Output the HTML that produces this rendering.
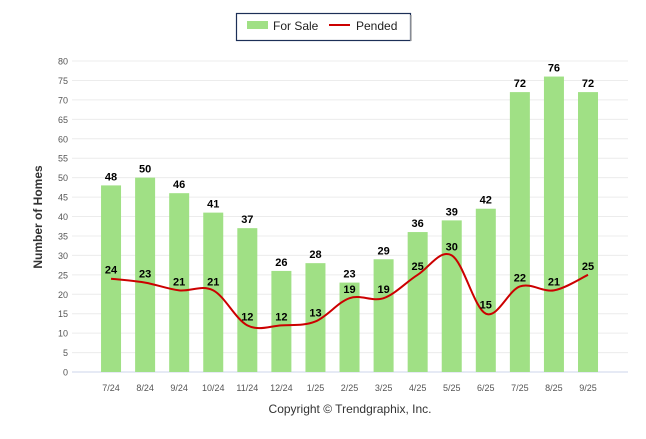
<!DOCTYPE html>
<html><head><meta charset="utf-8"><style>
body{margin:0;background:#fff;font-family:"Liberation Sans",sans-serif}
</style></head><body>
<svg width="646" height="434" xmlns="http://www.w3.org/2000/svg" id="c">
<rect x="0" y="0" width="646" height="434" fill="#fff"/>
<g>
<rect x="236.5" y="13.5" width="174" height="27" fill="#fff" stroke="#1c2f57" stroke-width="1.2"/>
<line x1="411" y1="15" x2="411" y2="41" stroke="#aaa" stroke-width="1.5"/>
<rect x="247" y="21" width="21" height="8" fill="#a0e085"/>
<text x="273" y="30" font-size="12" fill="#222">For Sale</text>
<line x1="329" y1="25" x2="350" y2="25" stroke="#cc0000" stroke-width="2"/>
<text x="356" y="30" font-size="12" fill="#222">Pended</text>
</g>
<text transform="translate(42,217) rotate(-90)" text-anchor="middle" font-size="12" font-weight="bold" fill="#333">Number of Homes</text>
<text x="350" y="413" text-anchor="middle" font-size="12" fill="#333">Copyright © Trendgraphix, Inc.</text>
<g id="grid"></g><g id="bars"></g><g id="line"></g><g id="labels"></g>
</svg>
<script>
const categories=["7/24","8/24","9/24","10/24","11/24","12/24","1/25","2/25","3/25","4/25","5/25","6/25","7/25","8/25","9/25"];
const forSale=[48,50,46,41,37,26,28,23,29,36,39,42,72,76,72];
const pended=[24,23,21,21,12,12,13,19,19,25,30,15,22,21,25];
const yTicks=[0,5,10,15,20,25,30,35,40,45,50,55,60,65,70,75,80];
const NS="http://www.w3.org/2000/svg";
const y0=372,y1=61,yMax=80,bandL=94,band=34.07;
const y=v=>y0-(v/yMax)*(y0-y1);
const x=i=>bandL+band*(i+0.5);
function mk(t,a,p){const e=document.createElementNS(NS,t);for(const k in a)e.setAttribute(k,a[k]);document.getElementById(p).appendChild(e);return e;}
yTicks.forEach(v=>{
const g=mk('line',{x1:72,x2:628,y1:y(v),y2:y(v),stroke:v===0?'#ccd6eb':'#ececec','stroke-width':1},'grid');


const t=mk('text',{x:68,y:y(v)+3.5,'text-anchor':'end','font-size':9,fill:'#555'},'grid');
t.textContent=v;


});
categories.forEach((c,i)=>{
const t=mk('text',{x:x(i),y:391,'text-anchor':'middle','font-size':9,fill:'#555'},'grid');
t.textContent=c;


const b=mk('rect',{x:x(i)-10,y:y(forSale[i]),width:20,height:y0-y(forSale[i]),fill:'#a0e085'},'bars');


const l=mk('text',{x:x(i),y:y(forSale[i])-5,'text-anchor':'middle','font-size':11,'font-weight':'bold',fill:'#000'},'labels');
l.textContent=forSale[i];


const p=mk('text',{x:x(i),y:y(pended[i])-5,'text-anchor':'middle','font-size':11,'font-weight':'bold',fill:'#000'},'labels');
p.textContent=pended[i];


});
const pts=pended.map((v,i)=>[x(i),y(v)]);
let d='M'+pts[0][0]+','+pts[0][1];
for(let i=0;i<pts.length-1;i++){
const p0=pts[i-1]||pts[i],p1=pts[i],p2=pts[i+1],p3=pts[i+2]||p2;
const s=0.17;
d+=' C'+(p1[0]+(p2[0]-p0[0])*s)+','+(p1[1]+(p2[1]-p0[1])*s)+' '+(p2[0]-(p3[0]-p1[0])*s)+','+(p2[1]-(p3[1]-p1[1])*s)+' '+p2[0]+','+p2[1];
}
const ln=mk('path',{d:d,fill:'none',stroke:'#cc0000','stroke-width':2},'line');


</script>
</body></html>
